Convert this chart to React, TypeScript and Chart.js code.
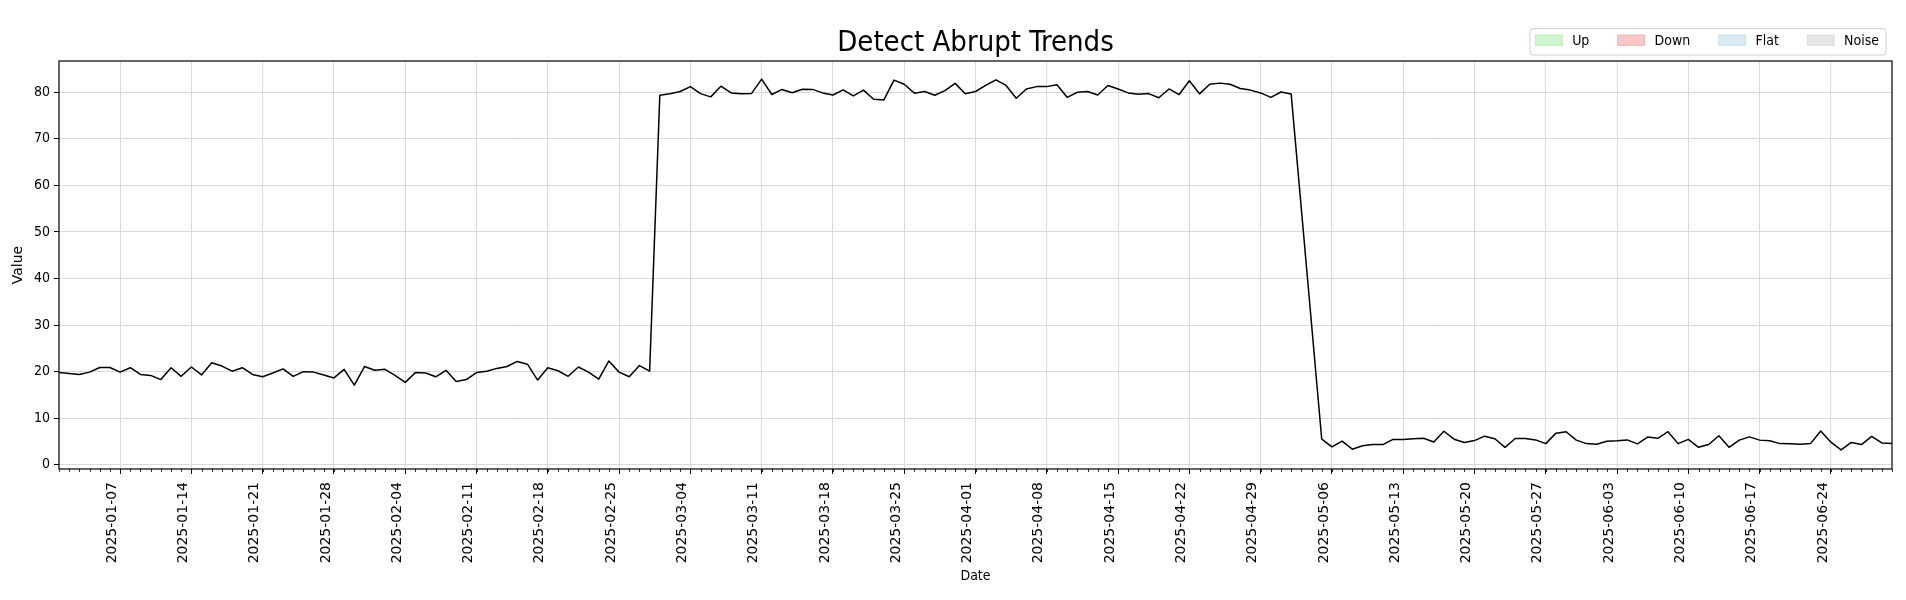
import React, { useEffect, useRef } from 'react';
import { Chart, registerables } from 'chart.js';

Chart.register(...registerables);

// ---------- data ----------
const START_DATE = '2025-01-01';
const LAST_DAY = 180; // 2025-06-30

// 2025-01-01 .. 2025-02-28
const VALUES_JAN_FEB = [
  19.8, 19.6, 19.4, 19.9, 20.9, 20.9, 19.9, 20.85, 19.4, 19.2,
  18.3, 20.85, 19.0, 21.0, 19.3, 21.9, 21.2, 20.1, 20.85, 19.4,
  18.9, 19.7, 20.6, 19.0, 20.0, 19.9, 19.3, 18.65, 20.5, 17.1,
  21.1, 20.3, 20.5, 19.2, 17.7, 19.8, 19.7, 18.9, 20.3, 17.9,
  18.3, 19.8, 20.1, 20.7, 21.1, 22.2, 21.6, 18.2, 20.85, 20.2,
  19.0, 21.0, 19.9, 18.4, 22.3, 19.9, 18.9, 21.3, 20.1,
];
// 2025-03-01 .. 2025-05-02
const VALUES_MAR_APR = [
  79.35, 79.65, 80.15, 81.2, 79.7, 79.0, 81.3, 79.85, 79.65, 79.7,
  82.8, 79.5, 80.6, 79.9, 80.65, 80.6, 79.85, 79.4, 80.5, 79.2,
  80.45, 78.5, 78.35, 82.6, 81.7, 79.8, 80.15, 79.35, 80.35, 81.9,
  79.65, 80.15, 81.45, 82.65, 81.45, 78.7, 80.7, 81.2, 81.2, 81.6,
  78.9, 80.0, 80.15, 79.4, 81.45, 80.7, 79.85, 79.55, 79.7, 78.8,
  80.7, 79.5, 82.45, 79.65, 81.7, 81.95, 81.7, 80.8, 80.45, 79.85,
  78.9, 80.05, 79.6,
];
// 2025-05-03 .. 2025-05-04 : no visible vertex (line runs straight)
const VALUES_GAP = [null, null];
// 2025-05-05 .. 2025-06-30
const VALUES_MAY_JUN = [
  5.5, 3.85, 5.1, 3.35, 4.1, 4.35, 4.35, 5.45, 5.45, 5.6,
  5.7, 4.9, 7.2, 5.5, 4.8, 5.2, 6.15, 5.6, 3.75, 5.65,
  5.65, 5.35, 4.55, 6.8, 7.1, 5.3, 4.55, 4.4, 5.05, 5.15,
  5.35, 4.5, 5.95, 5.7, 7.1, 4.55, 5.45, 3.75, 4.35, 6.25,
  3.75, 5.3, 6.0, 5.3, 5.15, 4.55, 4.5, 4.4, 4.55, 7.25,
  4.85, 3.2, 4.8, 4.35, 6.1, 4.7, 4.55,
];

const TICK_LABELS = [
  '2025-01-07', '2025-01-14', '2025-01-21', '2025-01-28', '2025-02-04',
  '2025-02-11', '2025-02-18', '2025-02-25', '2025-03-04', '2025-03-11',
  '2025-03-18', '2025-03-25', '2025-04-01', '2025-04-08', '2025-04-15',
  '2025-04-22', '2025-04-29', '2025-05-06', '2025-05-13', '2025-05-20',
  '2025-05-27', '2025-06-03', '2025-06-10', '2025-06-17', '2025-06-24',
];
const Y_TICKS = [0, 10, 20, 30, 40, 50, 60, 70, 80];
const Y_MIN = -0.9;
const Y_MAX = 86.7;

const TITLE = 'Detect Abrupt Trends';
const X_TITLE = 'Date';
const Y_TITLE = 'Value';

const LEGEND_LABELS = ['Up', 'Down', 'Flat', 'Noise'];
const LEGEND_FILLS = ['#d2f6d2', '#f8c8c8', '#d8ebf3', '#e6e6e6'];
const LEGEND_EDGES = ['#bdeebd', '#f0b4b4', '#c9e2ee', '#dedede'];

// ---------- styling ----------
const FONT = "'DejaVu Sans', sans-serif";
const FONT_COND = "'DejaVu Sans Condensed', 'Liberation Sans Narrow', 'DejaVu Sans', sans-serif";
const GRID = '#d9d9d9';

const dayIndex = (d: string) =>
  Math.round((Date.parse(d) - Date.parse(START_DATE)) / 86400000);

const ALL_VALUES: (number | null)[] = [
  ...VALUES_JAN_FEB,
  ...VALUES_MAR_APR,
  ...VALUES_GAP,
  ...VALUES_MAY_JUN,
];

const framePlugin = {
  id: 'mplFrame',
  afterDatasetsDraw(chart: any) {
    const { ctx, chartArea: a, scales } = chart;
    const xs = scales.x;
    ctx.save();
    // minor (daily) ticks
    ctx.strokeStyle = '#000';
    ctx.lineWidth = 0.8;
    ctx.beginPath();
    for (let d = 0; d <= LAST_DAY; d++) {
      const px = Math.round(xs.getPixelForValue(d)) + 0.5;
      ctx.moveTo(px, a.bottom);
      ctx.lineTo(px, a.bottom + 3);
    }
    ctx.stroke();
    // spines
    ctx.lineWidth = 1.2;
    ctx.strokeRect(a.left, a.top, a.right - a.left, a.bottom - a.top);
    ctx.restore();
  },
  afterDraw(chart: any) {
    const { ctx, chartArea: a } = chart;
    ctx.save();
    ctx.font = `14px ${FONT_COND}`;
    const handleW = 27.7;
    const handleH = 11;
    const handlePad = 9.5;
    const colSpacing = 28;
    const padL = 5;
    const padR = 7;
    const widths = LEGEND_LABELS.map((l) => ctx.measureText(l).width);
    let total = padL + padR + colSpacing * (LEGEND_LABELS.length - 1);
    widths.forEach((w) => (total += handleW + handlePad + w));
    const right = a.right - 6;
    const left = right - total;
    const bottom = a.top - 6;
    const top = bottom - 26.3;
    // frame
    const r = 3;
    ctx.beginPath();
    ctx.moveTo(left + r, top);
    ctx.lineTo(right - r, top);
    ctx.quadraticCurveTo(right, top, right, top + r);
    ctx.lineTo(right, bottom - r);
    ctx.quadraticCurveTo(right, bottom, right - r, bottom);
    ctx.lineTo(left + r, bottom);
    ctx.quadraticCurveTo(left, bottom, left, bottom - r);
    ctx.lineTo(left, top + r);
    ctx.quadraticCurveTo(left, top, left + r, top);
    ctx.closePath();
    ctx.fillStyle = 'rgba(255,255,255,0.8)';
    ctx.fill();
    ctx.strokeStyle = '#d0d0d0';
    ctx.lineWidth = 1;
    ctx.stroke();
    // entries
    let x = left + padL;
    ctx.textBaseline = 'alphabetic';
    ctx.textAlign = 'left';
    LEGEND_LABELS.forEach((label, i) => {
      ctx.fillStyle = LEGEND_FILLS[i];
      ctx.fillRect(x, top + 6, handleW, handleH);
      ctx.strokeStyle = LEGEND_EDGES[i];
      ctx.lineWidth = 1;
      ctx.strokeRect(x + 0.5, top + 6.5, handleW - 1, handleH - 1);
      x += handleW + handlePad;
      ctx.fillStyle = '#000';
      ctx.fillText(label, x, top + 16.6);
      x += widths[i] + colSpacing;
    });
    ctx.restore();
  },
};

export default function App() {
  const ref = useRef<HTMLCanvasElement>(null);

  useEffect(() => {
    document.body.style.margin = '0';
    const canvas = ref.current;
    if (!canvas) return;
    const chart = new Chart(canvas, {
      type: 'line',
      data: {
        datasets: [
          {
            label: 'Value',
            data: ALL_VALUES.map((v, i) => ({ x: i, y: v })) as any,
            borderColor: '#000',
            borderWidth: 1.5,
            pointRadius: 0,
            tension: 0,
            spanGaps: true,
            borderJoinStyle: 'round',
            fill: false,
          },
        ],
      },
      options: {
        animation: false,
        responsive: false,
        events: [],
        layout: { autoPadding: false, padding: { left: 0, right: 14, top: 0, bottom: 0 } },
        plugins: {
          legend: { display: false },
          tooltip: { enabled: false },
          title: {
            display: true,
            text: TITLE,
            fullSize: false,
            color: '#000',
            font: { family: FONT_COND, size: 29, weight: 'normal', lineHeight: 1.2 },
            padding: { top: 26, bottom: 0.2 },
          },
        },
        scales: {
          x: {
            type: 'linear',
            min: 0,
            max: LAST_DAY,
            afterBuildTicks: (s: any) => {
              s.ticks = TICK_LABELS.map((l) => ({ value: dayIndex(l) }));
            },
            afterFit: (s: any) => {
              s.height = 131;
            },
            grid: {
              color: GRID,
              lineWidth: 1,
              drawTicks: true,
              tickLength: 5,
              tickColor: '#000',
              tickWidth: 1,
            },
            border: { display: false },
            ticks: {
              autoSkip: false,
              minRotation: 90,
              maxRotation: 90,
              padding: 8,
              labelOffset: -8,
              color: '#000',
              font: { family: FONT, size: 14 },
              callback: (_v: any, i: number) => TICK_LABELS[i] ?? '',
            },
            title: {
              display: true,
              text: X_TITLE,
              color: '#000',
              font: { family: FONT_COND, size: 14 },
              padding: { top: 0, bottom: 15 },
            },
          },
          y: {
            type: 'linear',
            min: Y_MIN,
            max: Y_MAX,
            afterBuildTicks: (s: any) => {
              s.ticks = Y_TICKS.map((v) => ({ value: v }));
            },
            afterFit: (s: any) => {
              s.width = 59;
            },
            grid: {
              color: GRID,
              lineWidth: 1,
              drawTicks: true,
              tickLength: 5,
              tickColor: '#000',
              tickWidth: 1,
            },
            border: { display: false },
            ticks: {
              padding: 4,
              color: '#000',
              font: { family: FONT_COND, size: 14 },
            },
            title: {
              display: true,
              text: Y_TITLE,
              color: '#000',
              font: { family: FONT, size: 14 },
              padding: { top: 10, bottom: 0 },
            },
          },
        },
      },
      plugins: [framePlugin],
    } as any);
    return () => chart.destroy();
  }, []);

  return (
    <div style={{ width: 1906, height: 600, background: '#fff' }}>
      <canvas ref={ref} width={1906} height={600} style={{ display: 'block', width: 1906, height: 600 }} />
    </div>
  );
}
